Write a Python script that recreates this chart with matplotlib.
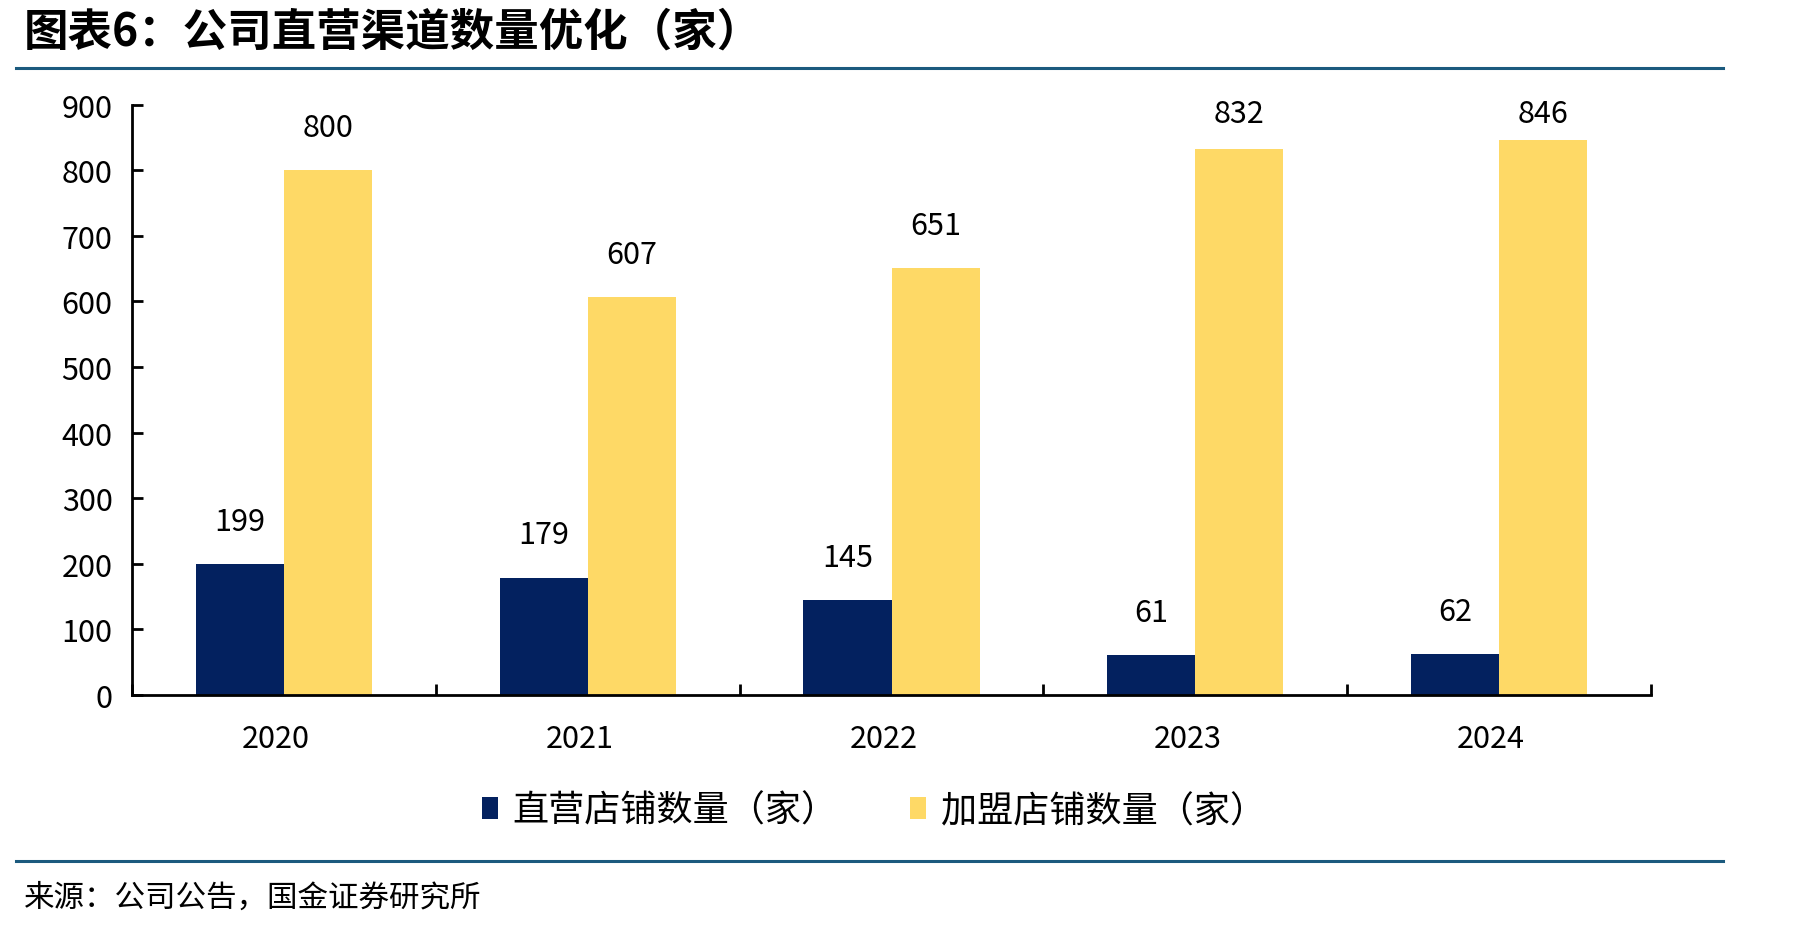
import numpy as np
import matplotlib
matplotlib.use('Agg')
import matplotlib.pyplot as plt
import matplotlib.transforms as mtrans
from matplotlib.lines import Line2D

plt.rcParams['font.family'] = ['Noto Sans CJK SC', 'DejaVu Sans']

years = ['2020', '2021', '2022', '2023', '2024']
direct = [199, 179, 145, 61, 62]
franchise = [800, 607, 651, 832, 846]
name_direct = '直营店铺数量（家）'
name_franchise = '加盟店铺数量（家）'
title = '图表6：公司直营渠道数量优化（家）'
source = '来源：公司公告，国金证券研究所'

c_direct = '#03215F'
c_franchise = '#FED966'
c_rule = '#1B5A7E'

fig = plt.figure(figsize=(18.17, 9.28), dpi=100)
ax = fig.add_axes([0.0727, 0.25, 0.8359, 0.6363])

x = np.arange(len(years))
w = 0.29
ax.bar(x - w / 2, direct, w, color=c_direct, label=name_direct)
ax.bar(x + w / 2, franchise, w, color=c_franchise, label=name_franchise)

# value labels, pushed down when they would run past the top of the axes
for xs, vals in [(x - w / 2, direct), (x + w / 2, franchise)]:
    for xi, v in zip(xs, vals):
        ax.text(xi, min(v + 65, 886), str(v), ha='center', va='center', fontsize=22)

ax.set_xlim(-0.5, len(years) - 0.5)
ax.set_ylim(0, 900)
ax.set_yticks(range(0, 901, 100))
ax.set_xticks(x)
ax.set_xticklabels(years)
ax.set_xticks(np.arange(-0.5, len(years)), minor=True)

for s in ['top', 'right']:
    ax.spines[s].set_visible(False)
for s in ['left', 'bottom']:
    ax.spines[s].set_linewidth(2)

ax.tick_params(axis='y', direction='in', length=8, width=2, labelsize=22, pad=14)
ax.tick_params(axis='x', which='major', length=0, labelsize=22, pad=20)
ax.tick_params(axis='x', which='minor', direction='in', length=8, width=2)
shift = mtrans.ScaledTranslation(-8 / 100, 0, fig.dpi_scale_trans)
for lbl in ax.get_xticklabels():
    lbl.set_transform(lbl.get_transform() + shift)

ax.legend(loc='center', bbox_to_anchor=(0.481, 0.125), bbox_transform=fig.transFigure,
          ncol=2, frameon=False, fontsize=26, handlelength=0.45, handleheight=0.55,
          handletextpad=0.4, columnspacing=2.0)

# title, rules and source
fig.text(0.013, 0.99, title, fontsize=32, fontweight='bold', va='top', ha='left')
fig.add_artist(Line2D([0.009, 0.948], [0.926, 0.926], color=c_rule, lw=2.2))
fig.add_artist(Line2D([0.009, 0.948], [0.071, 0.071], color=c_rule, lw=2.2))
fig.text(0.013, 0.032, source, fontsize=22, va='center', ha='left')

plt.savefig('out.png', dpi=100)
plt.close()
